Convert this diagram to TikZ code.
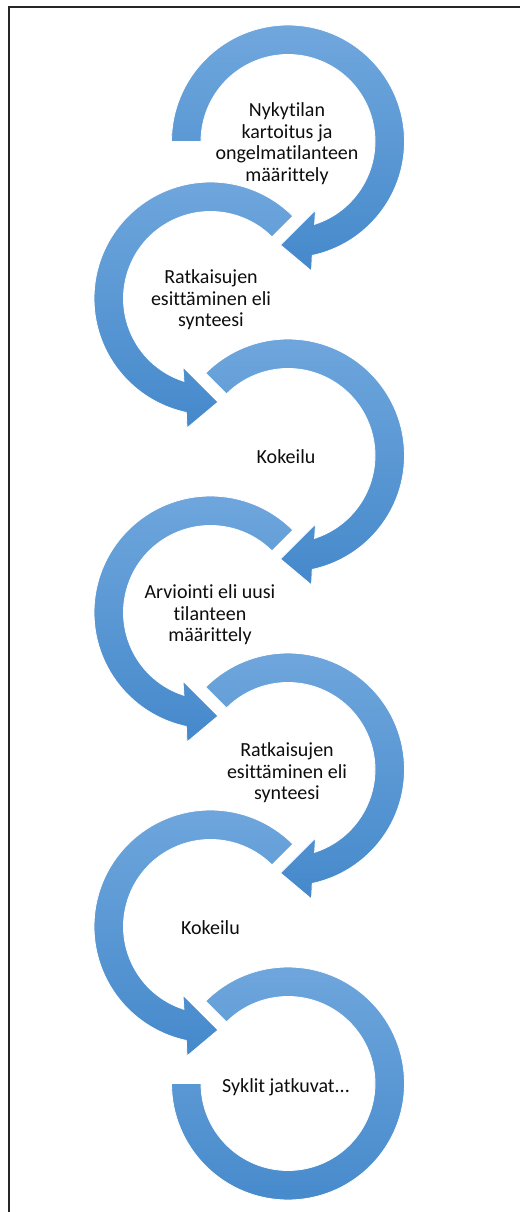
\documentclass[tikz,border=0pt]{standalone}
\usepackage{fontspec}
\setmainfont{Carlito}[Ligatures=NoCommon]
\definecolor{ringtop}{RGB}{112,167,221}
\definecolor{ringbottom}{RGB}{69,137,203}
\tikzset{
	ringarrow/.style={top color=ringtop, bottom color=ringbottom, draw=white, line width=0.4},
	steptext/.style={align=center, text=black!95, font=\fontsize{10}{10.8}\selectfont, inner sep=0pt},
	frameline/.style={draw=black!85, line width=1pt}
}
\begin{document}
\begin{tikzpicture}[x=0.5pt, y=0.5pt]
		\useasboundingbox (0,0) rectangle (520,1212);
		\draw[frameline] (9,0) -- (9,1205) -- (520,1205);
		\shade[ringarrow, shift={(288,1070.5)}] (180:87) -- (180:116.5) arc[start angle=180, end angle=-78, radius=116.5] -- (23.5,-129.5) -- (-7.5,-103.5) -- (27.5,-68.5) -- (-72.2:87) arc[start angle=-72.2, end angle=180, radius=87] -- cycle;
		\shade[ringarrow, shift={(210.5,913.5)}] (45:87) -- (45:116.5) arc[start angle=45, end angle=258, radius=116.5] -- (-23.5,-129.5) -- (7.5,-103.5) -- (-27.5,-68.5) -- (252.2:87) arc[start angle=252.2, end angle=45, radius=87] -- cycle;
		\shade[ringarrow, shift={(288,756.5)}] (135:87) -- (135:116.5) arc[start angle=135, end angle=-78, radius=116.5] -- (23.5,-129.5) -- (-7.5,-103.5) -- (27.5,-68.5) -- (-72.2:87) arc[start angle=-72.2, end angle=135, radius=87] -- cycle;
		\shade[ringarrow, shift={(210.5,599.5)}] (45:87) -- (45:116.5) arc[start angle=45, end angle=258, radius=116.5] -- (-23.5,-129.5) -- (7.5,-103.5) -- (-27.5,-68.5) -- (252.2:87) arc[start angle=252.2, end angle=45, radius=87] -- cycle;
		\shade[ringarrow, shift={(288,442.5)}] (135:87) -- (135:116.5) arc[start angle=135, end angle=-78, radius=116.5] -- (23.5,-129.5) -- (-7.5,-103.5) -- (27.5,-68.5) -- (-72.2:87) arc[start angle=-72.2, end angle=135, radius=87] -- cycle;
		\shade[ringarrow, shift={(210.5,285.5)}] (45:87) -- (45:116.5) arc[start angle=45, end angle=258, radius=116.5] -- (-23.5,-129.5) -- (7.5,-103.5) -- (-27.5,-68.5) -- (252.2:87) arc[start angle=252.2, end angle=45, radius=87] -- cycle;
		\shade[ringarrow, shift={(288,128.5)}] (135:87) -- (135:116.5) arc[start angle=135, end angle=-180, radius=116.5] -- (180:87) arc[start angle=-180, end angle=135, radius=87] -- cycle;
		\node[steptext] (t1) at (287,1068.5) {Nykytilan\\kartoitus ja\\ongelmatilanteen\\määrittely};
		\node[steptext] (t2) at (211,912) {Ratkaisujen\\esittäminen eli\\synteesi};
		\node[steptext] (t3) at (286,755) {Kokeilu};
		\node[steptext] (t4) at (210,597) {Arviointi eli uusi\\tilanteen\\määrittely};
		\node[steptext] (t5) at (287,439) {Ratkaisujen\\esittäminen eli\\synteesi};
		\node[steptext] (t6) at (210.5,284) {Kokeilu};
		\node[steptext] (t7) at (286,125) {Syklit jatkuvat...};
	\end{tikzpicture}
\end{document}
